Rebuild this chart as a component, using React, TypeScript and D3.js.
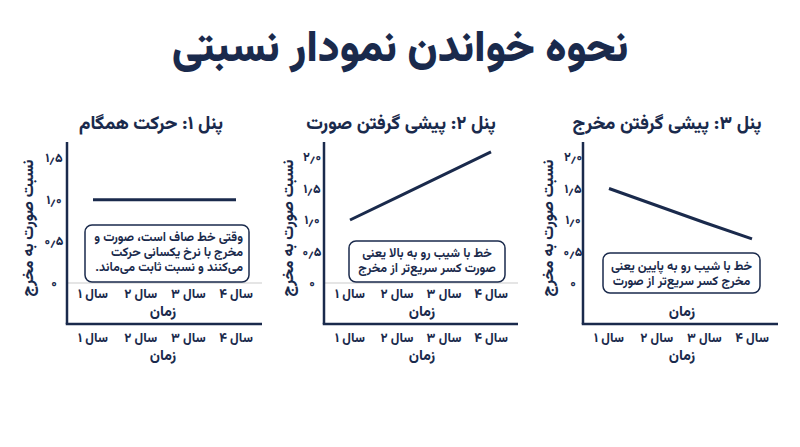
import React from "react";
import * as d3 from "d3";

const mainTitle = "نحوه خواندن نمودار نسبتی";
const years = ["سال ۱", "سال ۲", "سال ۳", "سال ۴"];
const xTitle = "زمان";
const yTitle = "نسبت صورت به مخرج";

const panelTitles = ["پنل ۱: حرکت همگام", "پنل ۲: پیشی گرفتن صورت", "پنل ۳: پیشی گرفتن مخرج"];
const panel1Values = [1.0, 1.0, 1.0, 1.0];
const panel2Values = [1.0, 1.36, 1.72, 2.08];
const panel3Values = [1.5, 1.23, 0.96, 0.7];
const panel1Ticks = [0, 0.5, 1.0, 1.5];
const panel23Ticks = [0, 0.5, 1.0, 1.5, 2.0];
const panel1Note = ["وقتی خط صاف است، صورت و", "مخرج با نرخ یکسانی حرکت", "می‌کنند و نسبت ثابت می‌ماند."];
const panel2Note = ["خط با شیب رو به بالا یعنی", "صورت کسر سریع‌تر از مخرج"];
const panel3Note = ["خط با شیب رو به پایین یعنی", "مخرج کسر سریع‌تر از صورت"];

const NAVY = "#1a2a4c";
const FONT = "Vazirmatn, 'Noto Sans Arabic', 'DejaVu Sans', sans-serif";
const W = 800;

const faDigits = "۰۱۲۳۴۵۶۷۸۹";
const fa = (v: number) => {
  const s = v === 0 ? "0" : v.toFixed(1);
  return s.replace(/\d/g, (d) => faDigits[+d]).replace(".", "٫");
};

type PanelCfg = {
  title: string;
  titleX: number;
  values: number[];
  ticks: number[];
  domainMax: number;
  yTop: number;
  axisX: number;
  axisRight: number;
  xRange: [number, number];
  tickLabelX: number;
  yTitleX: number;
  zeroLine: boolean;
  upperYears: boolean;
  note: string[];
  noteBox: [number, number, number, number];
  noteAlign: "right" | "center";
  noteY0: number;
  timeX: number;
};

const panels: PanelCfg[] = [
  {
    title: panelTitles[0], titleX: 151, values: panel1Values, ticks: panel1Ticks, domainMax: 1.5, yTop: 158,
    axisX: 67, axisRight: 262, xRange: [93, 236], tickLabelX: 54, yTitleX: 28, zeroLine: true, upperYears: true,
    note: panel1Note, noteBox: [85, 225, 249, 282], noteAlign: "right", noteY0: 241, timeX: 163,
  },
  {
    title: panelTitles[1], titleX: 401, values: panel2Values, ticks: panel23Ticks, domainMax: 2.0, yTop: 157,
    axisX: 324, axisRight: 518, xRange: [350, 491], tickLabelX: 312, yTitleX: 288, zeroLine: true, upperYears: true,
    note: panel2Note, noteBox: [349, 241, 505, 282], noteAlign: "center", noteY0: 257, timeX: 422,
  },
  {
    title: panelTitles[2], titleX: 667, values: panel3Values, ticks: panel23Ticks, domainMax: 2.0, yTop: 157,
    axisX: 583, axisRight: 778, xRange: [609, 752], tickLabelX: 573, yTitleX: 548, zeroLine: false, upperYears: false,
    note: panel3Note, noteBox: [603, 253, 760, 293], noteAlign: "center", noteY0: 270, timeX: 682,
  },
];

const Y0 = 283;
const AXIS_TOP = 142;
const AXIS_BOTTOM = 324;

function Panel({ p }: { p: PanelCfg }) {
  const y = d3.scaleLinear().domain([0, p.domainMax]).range([Y0, p.yTop]);
  const x = d3.scalePoint<string>().domain(years).range(p.xRange);
  const line = d3
    .line<number>()
    .x((_, i) => x(years[i]) as number)
    .y((d) => y(d));
  const [bx0, by0, bx1, by1] = p.noteBox;
  const noteX = p.noteAlign === "right" ? bx1 - 6 : (bx0 + bx1) / 2;
  return (
    <g>
      <text x={p.titleX} y={129} textAnchor="middle" direction="rtl" fontSize={18.5} fontWeight={800} fill={NAVY}>
        {p.title}
      </text>
      {p.zeroLine && (
        <line x1={p.axisX} x2={p.axisRight} y1={y(0)} y2={y(0)} stroke="#dcdcdc" strokeWidth={1.5} />
      )}
      {p.ticks.map((t) => (
        <text key={t} x={p.tickLabelX} y={y(t) + 4} textAnchor="middle" fontSize={12.5} fontWeight={800} fill={NAVY}>
          {fa(t)}
        </text>
      ))}
      <text
        transform={`translate(${p.yTitleX},${228}) rotate(-90)`}
        textAnchor="middle"
        direction="rtl"
        fontSize={15.5}
        fontWeight={800}
        fill={NAVY}
        dy="0.35em"
      >
        {yTitle}
      </text>
      <path d={line(p.values) || ""} fill="none" stroke={NAVY} strokeWidth={3} />
      <rect x={bx0} y={by0} width={bx1 - bx0} height={by1 - by0} rx={7} fill="#fff" stroke={NAVY} strokeWidth={1.5} />
      {p.note.map((s, i) => (
        <text
          key={i}
          x={noteX}
          y={p.noteY0 + i * 15}
          textAnchor={p.noteAlign === "right" ? "start" : "middle"}
          direction="rtl"
          fontSize={12.5}
          fontWeight={700}
          fill={NAVY}
        >
          {s}
        </text>
      ))}
      {p.upperYears &&
        years.map((yr) => (
          <text key={"u" + yr} x={x(yr)} y={298} textAnchor="middle" direction="rtl" fontSize={13} fontWeight={800} fill={NAVY}>
            {yr}
          </text>
        ))}
      <text x={p.timeX} y={316} textAnchor="middle" direction="rtl" fontSize={14.5} fontWeight={800} fill={NAVY}>
        {xTitle}
      </text>
      <line x1={p.axisX} x2={p.axisX} y1={AXIS_TOP} y2={AXIS_BOTTOM} stroke={NAVY} strokeWidth={2.5} />
      <line x1={p.axisX - 1.25} x2={p.axisRight} y1={AXIS_BOTTOM} y2={AXIS_BOTTOM} stroke={NAVY} strokeWidth={2.5} />
      {years.map((yr) => (
        <text key={"l" + yr} x={x(yr)} y={342} textAnchor="middle" direction="rtl" fontSize={13} fontWeight={800} fill={NAVY}>
          {yr}
        </text>
      ))}
      <text x={p.timeX} y={360} textAnchor="middle" direction="rtl" fontSize={14.5} fontWeight={800} fill={NAVY}>
        {xTitle}
      </text>
    </g>
  );
}

export default function App() {
  return (
    <svg
      width={W}
      height={447}
      viewBox="0 0 800 447"
      style={{ position: "absolute", left: 0, top: 0, background: "#fff", fontFamily: FONT }}
    >
      <rect width={W} height={447} fill="#fff" />
      <text x={W / 2} y={61} textAnchor="middle" direction="rtl" fontSize={43} fontWeight={900} fill={NAVY}>
        {mainTitle}
      </text>
      {panels.map((p, i) => (
        <Panel key={i} p={p} />
      ))}
    </svg>
  );
}
